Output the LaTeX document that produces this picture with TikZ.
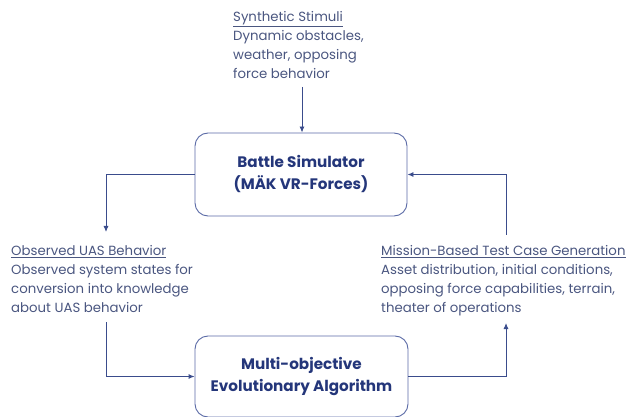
\documentclass[tikz,border=0pt]{standalone}
\usepackage{fontspec}
\setmainfont{Poppins}
\usetikzlibrary{arrows.meta}
\definecolor{txtc}{HTML}{4A5680}
\definecolor{ttlc}{HTML}{24367A}
\definecolor{linec}{HTML}{3A4C8C}
\definecolor{boxc}{HTML}{5A6AA6}
\tikzset{
  x=1pt,y=-1pt,
  desc/.style={anchor=north west,inner sep=0pt,align=left,text=txtc,font=\fontsize{13.3}{19}\selectfont},
  procbox/.style={draw=boxc,line width=0.9pt,rounded corners=13pt,align=center,text=ttlc,font=\fontsize{15.2}{22}\selectfont\bfseries},
  conn/.style={draw=linec,line width=0.9pt,-{Latex[length=6pt,width=5pt]}}
}
\begin{document}
\begin{tikzpicture}
\useasboundingbox (0,0) rectangle (630,417);
\node[procbox,minimum width=212pt,minimum height=83pt] (sim) at (301,174.5) {Battle Simulator\\(MÄK VR-Forces)};
\node[procbox,minimum width=213pt,minimum height=81pt,text depth=4pt] (mea) at (301.5,376.5) {Multi-objective\\Evolutionary Algorithm};
\node[desc] (stim) at (233,11) {\underline{Synthetic Stimuli}\\Dynamic obstacles,\\weather, opposing\\force behavior};
\node[desc] (obs) at (11,245) {\underline{Observed UAS Behavior}\\Observed system states for\\conversion into knowledge\\about UAS behavior};
\node[desc] (mis) at (381,245) {\underline{Mission-Based Test Case Generation}\\Asset distribution, initial conditions,\\opposing force capabilities, terrain,\\theater of operations};
\coordinate (stimout) at (302,87);
\coordinate (obsin) at (106,232);
\coordinate (obsout) at (106,322);
\coordinate (misout) at (506,235);
\coordinate (misin) at (506,323);
\draw[conn] (stimout) -- (stimout |- sim.north);
\draw[conn] (sim.west) -| (obsin);
\draw[conn] (misout) |- (sim.east);
\draw[conn] (obsout) |- (mea.west);
\draw[conn] (mea.east) -| (misin);
\end{tikzpicture}
\end{document}
